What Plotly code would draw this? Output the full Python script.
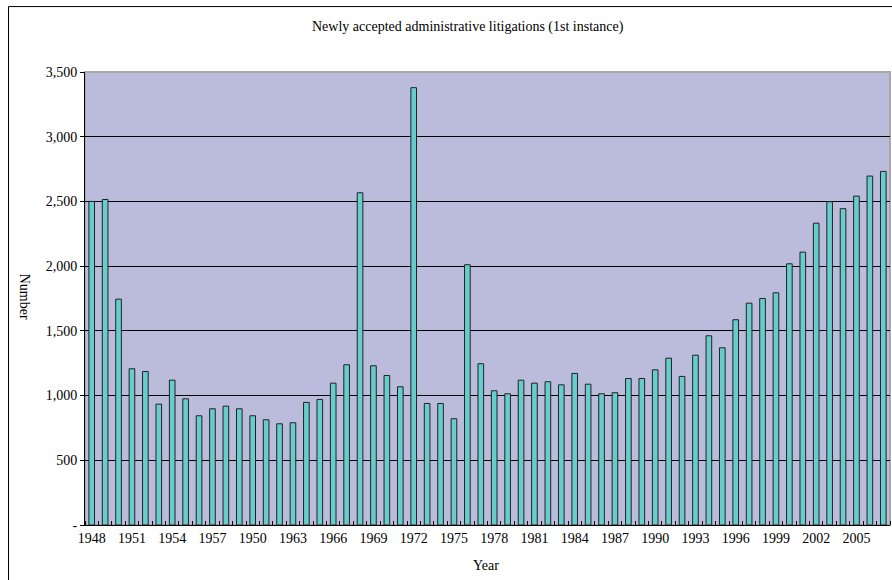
import plotly.graph_objects as go

years = list(range(1948, 2008))
cases = [2500, 2515, 1745, 1207, 1186, 934, 1119, 975, 844, 898,
         918, 898, 844, 813, 782, 790, 947, 970, 1096, 1238,
         2567, 1230, 1155, 1068, 3379, 939, 939, 821, 2011, 1246,
         1037, 1014, 1119, 1096, 1107, 1083, 1171, 1088, 1014, 1022,
         1132, 1132, 1199, 1289, 1148, 1312, 1462, 1369, 1586, 1714,
         1750, 1794, 2018, 2108, 2332, 2498, 2444, 2541, 2696, 2732]

x_tick_vals = list(range(1948, 2008, 3))
x_tick_text = [str(y) for y in x_tick_vals]
x_tick_text[x_tick_vals.index(1960)] = "1950"

y_tick_vals = [0, 500, 1000, 1500, 2000, 2500, 3000, 3500]
y_tick_text = ["-", "500", "1,000", "1,500", "2,000", "2,500", "3,000", "3,500"]

title_text = "Newly accepted administrative litigations (1st instance)"
x_title = "Year"
y_title = "Number"

FONT = "Liberation Serif, Times New Roman, serif"

W, H = 892, 580
# plot-area edges in screen pixels
SL, SR, ST, SB = 85, 890, 72, 525.5
L, R, T = SL, W - SR, ST
B = H - SB
pw, ph = W - L - R, H - T - B


def px(x):
    return (x - L) / pw


def py(y):
    return (H - B - y) / ph


fig = go.Figure()
fig.add_trace(go.Bar(
    x=years, y=cases, width=0.42,
    marker=dict(color="#66CCCC", line=dict(color="#222222", width=1)),
    showlegend=False,
))

fig.update_layout(
    width=W, height=H,
    margin=dict(l=L, r=R, t=T, b=B, autoexpand=False),
    paper_bgcolor="white",
    plot_bgcolor="#BBBBDB",
    font=dict(family=FONT, size=14, color="black"),
    xaxis=dict(
        range=[1947.5, 2007.5],
        tickvals=x_tick_vals, ticktext=x_tick_text,
        ticks="", showgrid=False, zeroline=False,
        showline=True, linecolor="black", linewidth=1,
        tickfont=dict(family=FONT, size=14),
        minor=dict(ticks="inside", tick0=1947.5, dtick=1, ticklen=4,
                   tickcolor="black", tickwidth=1, showgrid=False),
    ),
    yaxis=dict(
        range=[0, 3500],
        tickvals=y_tick_vals, ticktext=y_tick_text,
        ticks="outside", ticklen=4, tickcolor="black",
        showgrid=True, gridcolor="black", gridwidth=1,
        zeroline=False,
        showline=True, linecolor="black", linewidth=1,
        tickfont=dict(family=FONT, size=14),
    ),
    bargap=0.58,
)

# plot-area border (top/right grey)
fig.add_shape(type="rect", xref="paper", yref="paper", x0=0, x1=1, y0=0, y1=1,
              line=dict(color="#A8A8A8", width=2), layer="below")
# outer chart border
fig.add_shape(type="rect", xref="paper", yref="paper",
              x0=px(8.5), x1=px(905), y0=py(600), y1=py(6.5),
              line=dict(color="black", width=1), layer="above")

fig.add_annotation(text=title_text, xref="paper", yref="paper",
                   x=px(468), y=py(27),
                   showarrow=False, font=dict(family=FONT, size=14),
                   xanchor="center", yanchor="middle")
fig.add_annotation(text=x_title, xref="paper", yref="paper",
                   x=px(486), y=py(566),
                   showarrow=False, font=dict(family=FONT, size=14),
                   xanchor="center", yanchor="middle")
fig.add_annotation(text=y_title, xref="paper", yref="paper",
                   x=px(24), y=py(297),
                   showarrow=False, textangle=90, font=dict(family=FONT, size=14),
                   xanchor="center", yanchor="middle")

fig.write_html(
    "out.html",
    config={"displayModeBar": False},
    post_script="document.body.style.margin='0';document.body.style.overflow='hidden';",
)
